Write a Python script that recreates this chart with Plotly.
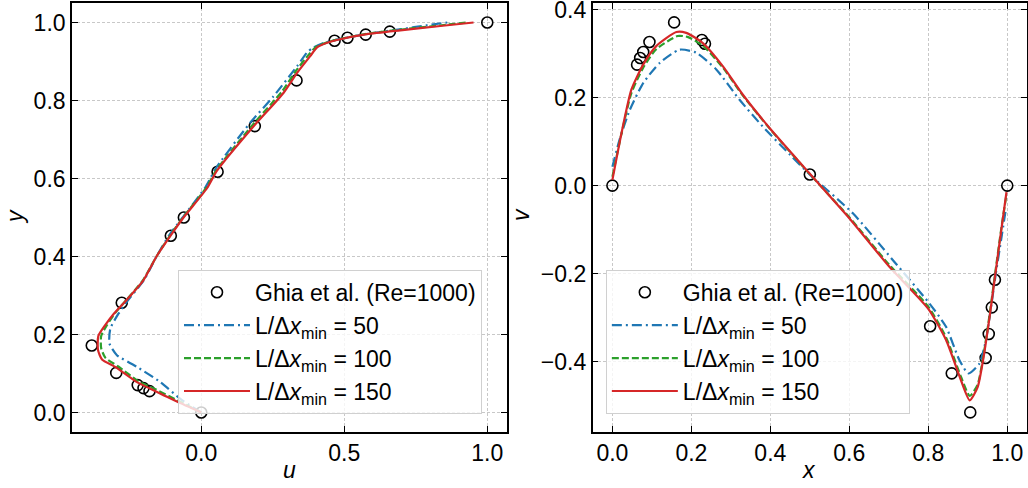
import plotly.graph_objects as go

# ---------------- data ----------------
# Ghia et al. (Re=1000): u along vertical centreline
ghia_y = [1.0000, 0.9766, 0.9688, 0.9609, 0.9531, 0.8516, 0.7344, 0.6172, 0.5000,
          0.4531, 0.2813, 0.1719, 0.1016, 0.0703, 0.0625, 0.0547, 0.0000]
ghia_u = [1.00000, 0.65928, 0.57492, 0.51117, 0.46604, 0.33304, 0.18719, 0.05702,
          -0.06080, -0.10648, -0.27805, -0.38289, -0.29730, -0.22220, -0.20196, -0.18109, 0.00000]
# Ghia et al. (Re=1000): v along horizontal centreline
ghia_x = [1.0000, 0.9688, 0.9609, 0.9531, 0.9453, 0.9063, 0.8594, 0.8047, 0.5000,
          0.2344, 0.2266, 0.1563, 0.0938, 0.0781, 0.0703, 0.0625, 0.0000]
ghia_v = [0.00000, -0.21388, -0.27669, -0.33714, -0.39188, -0.51550, -0.42665, -0.31966,
          0.02526, 0.32235, 0.33075, 0.37095, 0.32627, 0.30353, 0.29012, 0.27485, 0.00000]

# Simulation, L/dx = 50
u50 = [0.0, -0.073, -0.143, -0.225, -0.295, -0.321, -0.318, -0.289, -0.26, -0.2, -0.158, -0.112,
       -0.065, 0.015, 0.05, 0.17, 0.253, 0.335, 0.37, 0.39, 0.43, 0.5, 0.6, 0.7, 0.789, 0.86]
y50 = [0.0, 0.035, 0.078, 0.117, 0.147, 0.177, 0.215, 0.254, 0.284, 0.34, 0.398, 0.455,
       0.5, 0.578, 0.625, 0.742, 0.811, 0.888, 0.923, 0.935, 0.948, 0.96, 0.973, 0.983, 0.993, 1.0]
# L/dx = 100
u100 = [0.0, -0.08, -0.17, -0.22, -0.29, -0.335, -0.35, -0.35, -0.33, -0.3, -0.26, -0.205, -0.155,
        -0.108, -0.062, 0.018, 0.053, 0.178, 0.282, 0.33, 0.375, 0.4, 0.44, 0.474, 0.579, 0.7, 0.84, 0.93]
y100 = [0.0, 0.03, 0.063, 0.08, 0.118, 0.14, 0.165, 0.196, 0.224, 0.256, 0.29, 0.338, 0.402,
        0.455, 0.502, 0.577, 0.622, 0.736, 0.823, 0.875, 0.917, 0.937, 0.949, 0.956, 0.971, 0.982, 0.993, 1.0]
# L/dx = 150
u150 = [0.0, -0.085, -0.178, -0.225, -0.301, -0.347, -0.361, -0.36, -0.336, -0.305, -0.262, -0.205,
        -0.155, -0.108, -0.062, 0.02, 0.055, 0.183, 0.288, 0.335, 0.381, 0.405, 0.44, 0.474, 0.579,
        0.696, 0.836, 0.952]
y150 = [0.0, 0.028, 0.061, 0.078, 0.117, 0.136, 0.16, 0.196, 0.224, 0.254, 0.288, 0.336, 0.402,
        0.453, 0.5, 0.575, 0.62, 0.734, 0.82, 0.871, 0.914, 0.936, 0.948, 0.955, 0.97, 0.98, 0.991, 1.0]

x50 = [0.0, 0.018, 0.044, 0.078, 0.12, 0.17, 0.212, 0.263, 0.322, 0.381, 0.45, 0.5, 0.609, 0.71,
       0.803, 0.845, 0.879, 0.902, 0.929, 0.946, 0.959, 0.971, 0.985, 0.997]
v50 = [0.043, 0.104, 0.172, 0.233, 0.279, 0.309, 0.302, 0.264, 0.195, 0.134, 0.07, 0.025, -0.063,
       -0.169, -0.268, -0.321, -0.397, -0.427, -0.405, -0.351, -0.276, -0.2, -0.12, -0.05]
x100 = [0.0, 0.023, 0.048, 0.078, 0.111, 0.165, 0.19, 0.229, 0.28, 0.33, 0.398, 0.499, 0.6, 0.701,
        0.8, 0.845, 0.883, 0.905, 0.925, 0.94, 0.955, 0.97, 0.985, 0.998]
v100 = [0.02, 0.118, 0.21, 0.268, 0.31, 0.34, 0.338, 0.318, 0.268, 0.205, 0.13, 0.027, -0.072,
        -0.18, -0.275, -0.345, -0.435, -0.478, -0.452, -0.385, -0.295, -0.195, -0.097, -0.02]
x150 = [0.0, 0.023, 0.048, 0.078, 0.111, 0.162, 0.187, 0.229, 0.28, 0.33, 0.398, 0.499, 0.6, 0.701,
        0.8, 0.845, 0.883, 0.905, 0.925, 0.94, 0.955, 0.97, 0.985, 0.998]
v150 = [0.013, 0.119, 0.218, 0.275, 0.317, 0.349, 0.347, 0.324, 0.271, 0.207, 0.131, 0.028, -0.074,
        -0.184, -0.28, -0.351, -0.443, -0.488, -0.458, -0.39, -0.3, -0.2, -0.1, -0.015]

labels = ["Ghia et al. (Re=1000)",
          "L/Δ<i>x</i><sub>min</sub> = 50",
          "L/Δ<i>x</i><sub>min</sub> = 100",
          "L/Δ<i>x</i><sub>min</sub> = 150"]
axis_titles = ["<i>u</i>", "<i>y</i>", "<i>x</i>", "<i>v</i>"]
colors = ["#1f77b4", "#2ca02c", "#d62728"]
dashes = ["10px,4px,2px,4px", "7px,3px", "solid"]

FONT = "Liberation Sans, Arial, Helvetica, sans-serif"
FS = 23

fig = go.Figure()

def add_panel(xa, ya, legend, xs, ys, gx, gy):
    fig.add_trace(go.Scatter(x=gx, y=gy, mode="markers", name=labels[0],
                             marker=dict(symbol="circle-open", size=11, color="black",
                                         line=dict(width=1.6, color="black")),
                             xaxis=xa, yaxis=ya, legend=legend))
    for i in range(3):
        fig.add_trace(go.Scatter(x=xs[i], y=ys[i], mode="lines", name=labels[i + 1],
                                 line=dict(color=colors[i], width=2.2, dash=dashes[i],
                                           shape="spline", smoothing=0.6),
                                 xaxis=xa, yaxis=ya, legend=legend))

add_panel("x", "y", "legend", [u50, u100, u150], [y50, y100, y150], ghia_u, ghia_y)
add_panel("x2", "y2", "legend2", [x50, x100, x150], [v50, v100, v150], ghia_x, ghia_v)

axcommon = dict(showline=True, linecolor="black", linewidth=1.6, mirror="ticks",
                ticks="inside", ticklen=6, tickwidth=1.3, tickcolor="black",
                showgrid=True, gridcolor="#c8c8c8", gridwidth=1, griddash="3px,2px",
                zeroline=False, tickfont=dict(family=FONT, size=FS, color="black"),
                tickformat=".1f", ticklabeloverflow="allow", automargin=False)

legcommon = dict(bgcolor="rgba(255,255,255,0.8)", bordercolor="#d0d0d0", borderwidth=1,
                 font=dict(family=FONT, size=FS, color="black"),
                 xanchor="left", yanchor="top", itemwidth=66, tracegroupgap=0)

W, H = 1028, 488
ML, MR, MT, MB = 72, 1, 3, 56
pw, ph = W - ML - MR, H - MT - MB

def px(xp):
    return (xp - ML) / pw

def py(yp):
    return (H - MB - yp) / ph

annotations = [
    dict(text=axis_titles[0], x=px(289), y=py(470)),
    dict(text=axis_titles[1], x=px(15), y=py(217), textangle=-90),
    dict(text=axis_titles[2], x=px(809), y=py(470)),
    dict(text=axis_titles[3], x=px(521), y=py(215), textangle=-90),
]
for a in annotations:
    a.update(xref="paper", yref="paper", showarrow=False, xanchor="center", yanchor="middle",
             font=dict(family=FONT, size=FS, color="black"))

fig.update_layout(
    width=W, height=H,
    margin=dict(l=ML, r=MR, t=MT, b=MB, autoexpand=False),
    plot_bgcolor="white", paper_bgcolor="white",
    font=dict(family=FONT, size=FS, color="black"),
    showlegend=True,
    annotations=annotations,
    xaxis=dict(domain=[0, 0.4555], range=[-0.452, 1.069], tickvals=[0, 0.5, 1.0], **axcommon),
    yaxis=dict(domain=[0, 1], range=[-0.05, 1.05], tickvals=[0, 0.2, 0.4, 0.6, 0.8, 1.0],
               **axcommon),
    xaxis2=dict(domain=[0.5452, 1], range=[-0.05, 1.05], tickvals=[0, 0.2, 0.4, 0.6, 0.8, 1.0],
                anchor="y2", **axcommon),
    yaxis2=dict(domain=[0, 1], range=[-0.56, 0.415], tickvals=[-0.4, -0.2, 0, 0.2, 0.4],
                anchor="x2", **axcommon),
    legend=dict(x=0.111, y=0.378, **legcommon),
    legend2=dict(x=0.559, y=0.378, **legcommon),
)

fig.write_html("out.html")
